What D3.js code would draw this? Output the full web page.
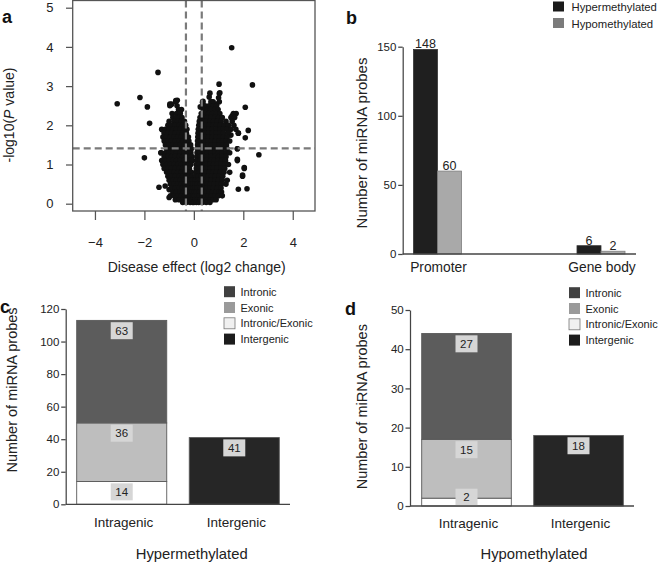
<!DOCTYPE html>
<html><head><meta charset="utf-8">
<script src="https://cdn.jsdelivr.net/npm/d3@7"></script>
<style>body{margin:0;background:#fff}svg{display:block;font-family:"Liberation Sans",Arial,Helvetica,sans-serif}</style>
</head><body><svg id="chart" width="660" height="562"></svg>
<script>
// ---------------- DATA ----------------
// Panel a: volcano plot (log2 change, -log10 P)
const volcanoOutliers = [
  [-1.45,3.35],[-3.1,2.55],[-2.18,2.71],[-1.88,2.47],[-1.79,2.05],[-2.0,1.17],
  [1.53,3.98],[2.37,3.03],[1.02,3.05],[2.08,2.46],[2.2,1.87],[2.08,1.68],[2.63,1.25],
  [2.15,0.38],[2.04,0.92],[1.97,0.73],[1.8,0.37],[1.8,1.8],[1.55,2.24],[1.71,2.3],
  [1.5,1.75],[1.76,1.4],[1.76,1.13],[-1.41,0.42],[-1.16,0.45],[-1.0,0.16],[-1.0,0.36],
  [-1.33,1.3],[-1.27,1.88],[-0.97,2.54],[-0.73,2.63],[-0.56,2.35],[1.03,2.81],[0.37,2.61],
  [0.26,2.47],[1.0,2.7],[0.62,2.72],[0.7,2.6],[0.92,2.54],[1.05,2.83],[0.65,2.82],[0.35,2.59],
  [-0.9,2.54],[-0.67,2.64]
];
const volcanoRows = [
  [2.6,[-0.73,0.7,0.78,1.03]],
  [2.5,[-0.97,-0.68,0.45,0.62,0.8,0.92]],
  [2.4,[-0.62,-0.5,0.38,0.55,0.68,0.85,0.98]],
  [2.3,[-0.88,-0.7,-0.55,0.3,0.45,0.6,0.75,0.9,1.05,1.6]],
  [2.2,[-0.85,-0.72,-0.6,-0.48,0.25,0.4,0.55,0.7,0.85,1.0,1.15,1.5,1.65]],
  [2.1,[-1.0,-0.8,-0.65,-0.5,-0.38,0.22,0.35,0.5,0.65,0.8,0.95,1.1,1.3,1.55]],
  [2.0,[-1.05,-0.9,-0.75,-0.6,-0.45,-0.33,0.2,0.33,0.48,0.62,0.77,0.92,1.07,1.22,1.4,1.62]],
  [1.9,[-1.3,-1.15,-1.0,-0.85,-0.7,-0.55,-0.4,-0.28,0.18,0.3,0.45,0.6,0.75,0.9,1.05,1.2,1.35,1.5,1.7]],
  [1.8,[-1.2,-1.05,-0.9,-0.75,-0.6,-0.45,-0.3,0.17,0.3,0.45,0.6,0.75,0.9,1.05,1.2,1.4,1.8]],
  [1.7,[-1.25,-1.1,-0.95,-0.8,-0.65,-0.5,-0.35,-0.22,0.16,0.3,0.45,0.6,0.75,0.9,1.05,1.2,1.35]],
  [1.6,[-1.2,-1.05,-0.9,-0.75,-0.6,-0.45,-0.3,-0.2,0.15,0.28,0.42,0.57,0.72,0.87,1.02,1.17,1.3,1.45]],
  [1.5,[-1.15,-1.0,-0.85,-0.7,-0.55,-0.4,-0.25,-0.13,0.15,0.28,0.42,0.57,0.72,0.87,1.02,1.17,1.32]],
  [1.4,[-1.1,-0.95,-0.8,-0.65,-0.5,-0.35,-0.2,-0.1,0.14,0.27,0.42,0.57,0.72,0.87,1.02,1.17,1.35,1.76]],
  [1.3,[-1.33,-1.15,-1.0,-0.85,-0.7,-0.55,-0.4,-0.25,-0.12,0.13,0.26,0.4,0.55,0.7,0.85,1.0,1.15,1.3,1.45]],
  [1.2,[-1.2,-1.05,-0.9,-0.75,-0.6,-0.45,-0.3,-0.17,-0.08,0.12,0.25,0.4,0.55,0.7,0.85,1.0,1.15,1.3]],
  [1.1,[-1.3,-1.15,-1.0,-0.85,-0.7,-0.55,-0.4,-0.27,-0.14,-0.06,0.11,0.24,0.38,0.53,0.68,0.83,0.98,1.13,1.28,1.76]],
  [1.0,[-1.25,-1.1,-0.95,-0.8,-0.65,-0.5,-0.35,-0.22,-0.12,0.1,0.22,0.36,0.5,0.65,0.8,0.95,1.1,1.25,1.4]],
  [0.9,[-1.2,-1.05,-0.9,-0.75,-0.6,-0.45,-0.3,-0.18,0.1,0.22,0.36,0.5,0.65,0.8,0.95,1.1,1.25,2.04]],
  [0.8,[-1.1,-0.95,-0.8,-0.65,-0.5,-0.35,-0.22,-0.1,0.08,0.2,0.33,0.47,0.62,0.77,0.92,1.07,1.22,1.45]],
  [0.7,[-1.05,-0.9,-0.75,-0.6,-0.45,-0.3,-0.18,-0.08,0.07,0.18,0.3,0.44,0.58,0.72,0.87,1.02,1.17,1.97]],
  [0.6,[-1.0,-0.85,-0.7,-0.55,-0.4,-0.27,-0.15,-0.06,0.06,0.16,0.28,0.42,0.56,0.7,0.85,1.0,1.15,1.35]],
  [0.5,[-0.95,-0.8,-0.65,-0.5,-0.37,-0.24,-0.12,-0.04,0.05,0.15,0.27,0.4,0.54,0.68,0.82,0.97,1.12,1.3]],
  [0.4,[-0.9,-0.75,-0.6,-0.47,-0.34,-0.22,-0.1,-0.02,0.04,0.13,0.25,0.38,0.52,0.66,0.8,0.95,1.1]],
  [0.3,[-0.85,-0.7,-0.56,-0.43,-0.3,-0.18,-0.07,0.02,0.11,0.22,0.35,0.48,0.62,0.76,0.9,1.02,1.12]],
  [0.2,[-0.95,-0.8,-0.65,-0.5,-0.37,-0.25,-0.13,-0.04,0.03,0.12,0.22,0.33,0.45,0.58,0.72,0.86,1.0,1.15]],
  [0.1,[-0.75,-0.6,-0.45,-0.32,-0.2,-0.1,-0.02,0.05,0.14,0.25,0.37,0.5,0.64,0.78,0.9]],
  [0.03,[-0.45,-0.3,-0.15,-0.05,0.0,0.1,0.2,0.35,0.5,0.65]]
];
const volcanoXTicks = [-4,-2,0,2,4];
const volcanoYTicks = [0,1,2,3,4,5];
const foldCutoff = 0.32;      // |log2 change| threshold
const pCutoff = 1.41;         // -log10(P) threshold

// Panel b: promoter vs gene body
const regionGroups = ["Promoter","Gene body"];
const methSeries = ["Hypermethylated","Hypomethylated"];
const hyperByRegion = [148, 6];
const hypoByRegion = [60, 2];
const regionTicks = [0,50,100,150];

// Panels c, d: location categories
const locCategories = ["Intragenic","Intergenic"];
const locParts = ["Intronic","Exonic","Intronic/Exonic","Intergenic"];
const hyperIntronic = [63, 0];
const hyperExonic = [36, 0];
const hyperIntronicExonic = [14, 0];
const hyperIntergenic = [0, 41];
const hypoIntronic = [27, 0];
const hypoExonic = [15, 0];
const hypoIntronicExonic = [2, 0];
const hypoIntergenic = [0, 18];
const hyperTicks = [0,20,40,60,80,100,120];
const hypoTicks = [0,10,20,30,40,50];

// ---------------- DRAW ----------------
const svg = d3.select("#chart");
const ink = "#222";

function panelLetter(t, x, y){
  svg.append("text").attr("x",x).attr("y",y).attr("font-size",18).attr("font-weight","bold").attr("fill","#111").text(t);
}
function styleAxis(a, size, col){
  a.attr("font-family",null).attr("font-size",null);
  a.selectAll("text").attr("font-size",size).attr("fill",ink);
  a.selectAll("line,path").attr("stroke",col).attr("stroke-width",1.25);
}

// ===== Panel a =====
(function(){
  const fx0=72.7, fx1=315, fy0=0.5, fy1=211;
  const x = d3.scaleLinear().domain([-4.9,4.9]).range([fx0,fx1]);
  const y = d3.scaleLinear().domain([0,5]).range([203.7,7.7]);
  const g = svg.append("g");
  const pts = volcanoOutliers.slice();
  volcanoRows.forEach(([yy,xs])=>xs.forEach(xx=>pts.push([xx,yy])));
  g.append("g").selectAll("circle").data(pts).join("circle")
    .attr("cx",d=>x(d[0])).attr("cy",d=>y(d[1])).attr("r",2.8).attr("fill","#111");
  const dash = {stroke:"#7a7a7a","stroke-width":2.2,"stroke-dasharray":"7,4"};
  [-foldCutoff, foldCutoff].forEach(v=>{
    const l=g.append("line").attr("x1",x(v)).attr("x2",x(v)).attr("y1",fy0).attr("y2",fy1);
    Object.entries(dash).forEach(([k,val])=>l.attr(k,val));
  });
  const hl=g.append("line").attr("x1",fx0).attr("x2",fx1).attr("y1",y(pCutoff)).attr("y2",y(pCutoff));
  Object.entries(dash).forEach(([k,val])=>hl.attr(k,val));
  g.append("rect").attr("x",fx0).attr("y",fy0).attr("width",fx1-fx0).attr("height",fy1-fy0)
    .attr("fill","none").attr("stroke","#555").attr("stroke-width",1.3);
  const ax = g.append("g").attr("transform",`translate(0,${fy1})`)
    .call(d3.axisBottom(x).tickValues(volcanoXTicks).tickSize(9).tickPadding(18).tickFormat(d=>d<0?"\u2212"+Math.abs(d):String(d)));
  const ay = g.append("g").attr("transform",`translate(${fx0},0)`)
    .call(d3.axisLeft(y).tickValues(volcanoYTicks).tickSize(6.7).tickPadding(12.5).tickFormat(d3.format("d")));
  [ax,ay].forEach(a=>{a.select(".domain").remove(); styleAxis(a,13,"#555");});
  g.append("text").attr("x",196.7).attr("y",271.5).attr("text-anchor","middle").attr("font-size",14).attr("fill",ink)
    .text("Disease effect (log2 change)");
  const yt = g.append("text").attr("transform","translate(14,115) rotate(-90)").attr("text-anchor","middle").attr("font-size",14).attr("fill",ink);
  yt.append("tspan").text("-log10(");
  yt.append("tspan").attr("font-style","italic").text("P");
  yt.append("tspan").text(" value)");
  panelLetter("a", 2, 23);
})();

// ===== Panel b =====
(function(){
  const axX=402.7, base=254;
  const y = d3.scaleLinear().domain([0,150]).range([base,46.7]);
  const xg = d3.scalePoint().domain(regionGroups).range([437.5,601]);
  const xs = d3.scaleBand().domain(methSeries).range([-24,24]);
  const fills = {"Hypermethylated":"#1f1f1f","Hypomethylated":"#a9a9a9"};
  const strokes = {"Hypermethylated":"#333","Hypomethylated":"#7d7d7d"};
  const vals = {"Hypermethylated":hyperByRegion,"Hypomethylated":hypoByRegion};
  const g = svg.append("g");
  methSeries.forEach(s=>{
    regionGroups.forEach((r,i)=>{
      const v=vals[s][i];
      g.append("rect").attr("x",xg(r)+xs(s)).attr("width",xs.bandwidth()).attr("y",y(v)).attr("height",base-y(v))
        .attr("fill",fills[s]).attr("stroke",strokes[s]).attr("stroke-width",0.8);
      g.append("text").attr("x",xg(r)+xs(s)+xs.bandwidth()/2).attr("y",y(v)-1.2).attr("text-anchor","middle")
        .attr("font-size",12.5).attr("fill",ink).text(v);
    });
  });
  const ay = g.append("g").attr("transform",`translate(${axX},0)`)
    .call(d3.axisLeft(y).tickValues(regionTicks).tickSize(4.5).tickPadding(1.8).tickSizeOuter(0));
  styleAxis(ay,11.5,"#444");
  g.append("line").attr("x1",axX).attr("x2",636).attr("y1",base).attr("y2",base).attr("stroke","#444").attr("stroke-width",1.3);
  regionGroups.forEach(r=>{
    g.append("text").attr("x",xg(r)+1).attr("y",271.5).attr("text-anchor","middle").attr("font-size",13.8).attr("fill",ink).text(r);
  });
  g.append("text").attr("transform","translate(367,143) rotate(-90)").attr("text-anchor","middle").attr("font-size",15).attr("fill",ink)
    .text("Number of miRNA probes");
  const legFill = {"Hypermethylated":"#1a1a1a","Hypomethylated":"#7b7b7b"};
  methSeries.forEach((s,i)=>{
    g.append("rect").attr("x",553).attr("y",1.5+i*16.5).attr("width",11).attr("height",10).attr("fill",legFill[s]);
    g.append("text").attr("x",571.5).attr("y",11.3+i*16.5).attr("font-size",11.3).attr("fill",ink).text(s);
  });
  panelLetter("b", 346, 24);
})();

// ===== Panels c, d =====
function stackedPanel(opt){
  const {parts, ticks, ymax, axX, base, top, r0, r1, axEnd, title, letter, letterX, letterY, legX, legY, ytitleX, ytitleY, xlabY, titleX} = opt;
  const y = d3.scaleLinear().domain([0,ymax]).range([base,top]);
  const x = d3.scaleBand().domain(locCategories).range([r0,r1]).paddingInner(0.2).paddingOuter(0);
  const barFill = {"Intronic":"#5c5c5c","Exonic":"#bebebe","Intronic/Exonic":"#ffffff","Intergenic":"#262626"};
  const legFill = {"Intronic":"#404040","Exonic":"#9a9a9a","Intronic/Exonic":"#f0f0f0","Intergenic":"#1c1c1c"};
  const order = ["Intronic/Exonic","Exonic","Intronic","Intergenic"];
  const rows = locCategories.map((c,i)=>{const o={cat:c}; order.forEach(k=>o[k]=parts[k][i]); return o;});
  const series = d3.stack().keys(order)(rows);
  const g = svg.append("g");
  series.forEach(s=>{
    s.forEach(d=>{
      if(d[1]-d[0]<=0) return;
      g.append("rect").attr("x",x(d.data.cat)).attr("width",x.bandwidth()).attr("y",y(d[1])).attr("height",y(d[0])-y(d[1]))
        .attr("fill",barFill[s.key]).attr("stroke","#5a5a5a").attr("stroke-width",0.9);
    });
  });
  series.forEach(s=>{
    s.forEach(d=>{
      const v=d[1]-d[0]; if(v<=0) return;
      const cx=x(d.data.cat)+x.bandwidth()/2;
      const cy=Math.min(y(d[1])+10.3, base-8.8);
      g.append("rect").attr("x",cx-11).attr("y",cy-8.5).attr("width",22).attr("height",17).attr("fill","#d6d6d6");
      g.append("text").attr("x",cx).attr("y",cy+4).attr("text-anchor","middle").attr("font-size",11.5).attr("fill",ink).text(v);
    });
  });
  const ay = g.append("g").attr("transform",`translate(${axX},0)`)
    .call(d3.axisLeft(y).tickValues(ticks).tickSize(4.5).tickPadding(1.8).tickSizeOuter(0));
  styleAxis(ay,11.5,"#444");
  g.append("line").attr("x1",axX).attr("x2",axEnd).attr("y1",base).attr("y2",base).attr("stroke","#444").attr("stroke-width",1.3);
  locCategories.forEach(c=>{
    g.append("text").attr("x",x(c)+x.bandwidth()/2+2).attr("y",xlabY).attr("text-anchor","middle").attr("font-size",13.5).attr("fill",ink).text(c);
  });
  g.append("text").attr("x",titleX).attr("y",558.5).attr("text-anchor","middle").attr("font-size",14.8).attr("fill",ink).text(title);
  g.append("text").attr("transform",`translate(${ytitleX},${ytitleY}) rotate(-90)`).attr("text-anchor","middle").attr("font-size",14.5).attr("fill",ink)
    .text("Number of miRNA probes");
  locParts.forEach((p,i)=>{
    g.append("rect").attr("x",legX).attr("y",legY+i*15.8-5.5).attr("width",11).attr("height",11)
      .attr("fill",legFill[p]).attr("stroke",p==="Intronic/Exonic"?"#777":"none").attr("stroke-width",0.8);
    g.append("text").attr("x",legX+16.5).attr("y",legY+i*15.8+4).attr("font-size",11).attr("fill",ink).text(p);
  });
  panelLetter(letter, letterX, letterY);
}

stackedPanel({
  parts:{"Intronic":hyperIntronic,"Exonic":hyperExonic,"Intronic/Exonic":hyperIntronicExonic,"Intergenic":hyperIntergenic},
  ticks:hyperTicks, ymax:120, axX:65.7, base:504.3, top:309, r0:76.7, r1:279.3, axEnd:290,
  title:"Hypermethylated", titleX:191.7, letter:"c", letterX:0, letterY:313,
  legX:224, legY:291.7, ytitleX:17, ytitleY:390, xlabY:526.5
});
stackedPanel({
  parts:{"Intronic":hypoIntronic,"Exonic":hypoExonic,"Intronic/Exonic":hypoIntronicExonic,"Intergenic":hypoIntergenic},
  ticks:hypoTicks, ymax:50, axX:410, base:506, top:310, r0:421.7, r1:623.3, axEnd:634,
  title:"Hypomethylated", titleX:534, letter:"d", letterX:345, letterY:315,
  legX:569, legY:292.7, ytitleX:367, ytitleY:406.7, xlabY:528
});
</script></body></html>
